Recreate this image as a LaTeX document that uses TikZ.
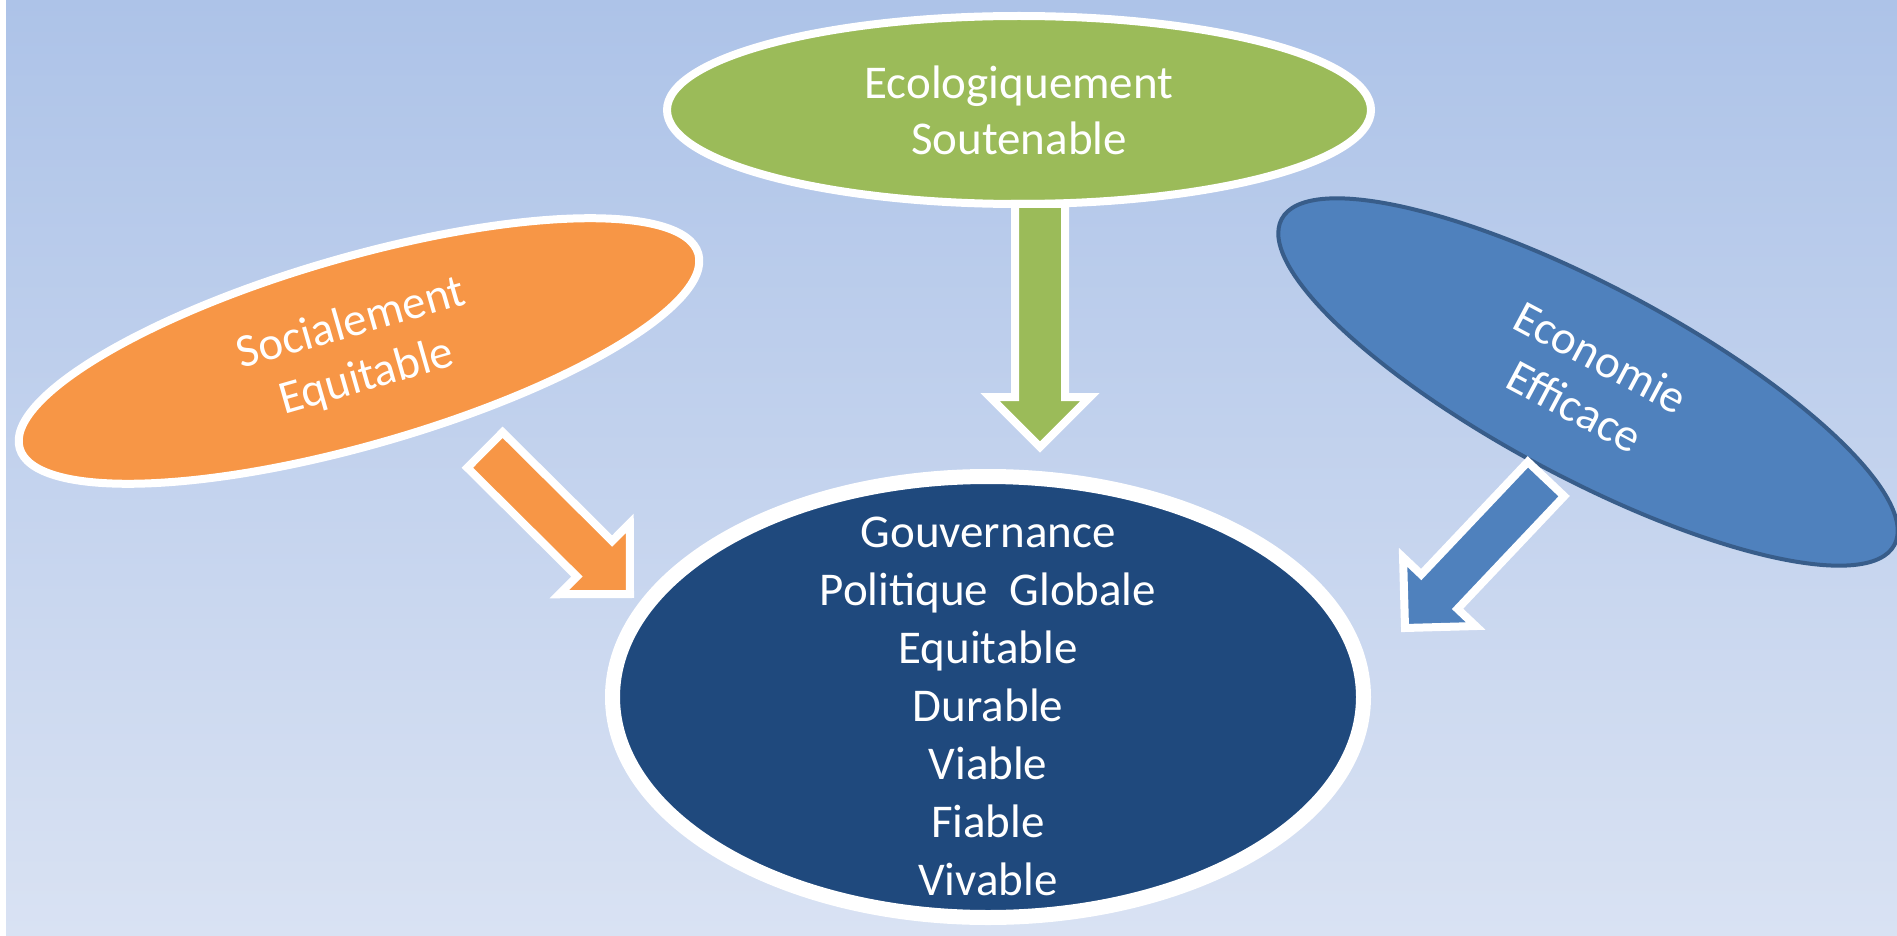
\documentclass[tikz,border=0pt]{standalone}
\usepackage{fontspec}
\setmainfont{Carlito}
\usetikzlibrary{shapes,calc}

\definecolor{fondhaut}{RGB}{173,195,232}
\definecolor{fondbas}{RGB}{217,226,243}
\definecolor{vertsout}{RGB}{155,187,89}
\definecolor{orangesoc}{RGB}{247,150,70}
\definecolor{bleueco}{RGB}{79,129,189}
\definecolor{bleubord}{RGB}{56,93,138}
\definecolor{bleugouv}{RGB}{31,73,125}

% fleche pleine entre deux points nommes
\newcommand{\flechebloc}[3]{%
  \path let \p1=($(#3)-(#2)$) in \pgfextra{%
    \pgfmathparse{atan2(\y1,\x1)}\xdef\angfl{\pgfmathresult}%
    \pgfmathparse{veclen(\x1,\y1)}\xdef\lenfl{\pgfmathresult}};
  \draw[fleche, fill=#1, shift={(#2)}, rotate=\angfl]
    (0,-25) -- (\lenfl-50,-25) -- (\lenfl-50,-50) -- (\lenfl,0)
    -- (\lenfl-50,50) -- (\lenfl-50,25) -- (0,25) -- cycle;}

\begin{document}
\begin{tikzpicture}[x=1pt, y=-1pt]
  \tikzstyle{bulle}=[ellipse, draw=white, line width=8pt, inner sep=0pt, text=white, align=center, font=\fontsize{47}{56}\selectfont]
  \tikzstyle{fleche}=[draw=white, line width=8pt]

  % Fond
  \useasboundingbox (0,0) rectangle (1897,936);
  \fill[white] (0,0) rectangle (1897,936);
  \shade[top color=fondhaut, bottom color=fondbas] (6,0) rectangle (1897,936);

  % Les trois piliers
  \node[bulle, fill=vertsout, minimum width=704pt, minimum height=188pt] (eco) at (1019,110) {Ecologiquement\\Soutenable};
  \node[bulle, fill=orangesoc, minimum width=706pt, minimum height=188pt, rotate=16] (soc) at (359,351) {Socialement\\Equitable};
  \node[bulle, fill=bleueco, draw=bleubord, line width=4pt, minimum width=694pt, minimum height=192pt, rotate=-28] (econ) at (1588,382) {Economie\\Efficace};

  % Gouvernance
  \node[bulle, fill=bleugouv, line width=15pt, minimum width=751pt, minimum height=441pt] (gouv) at (988,697) {};
  \node[text=white, align=center, font=\fontsize{47}{58}\selectfont] (gouv-txt) at (988,706) {Gouvernance\\Politique\ \ Globale\\Equitable\\Durable\\Viable\\Fiable\\Vivable};

  % Fleches
  \coordinate (eco-q) at (1040,204);
  \coordinate (eco-p) at (1040,447);
  \coordinate (soc-q) at (485,450);
  \coordinate (soc-p) at (630,594);
  \coordinate (econ-q) at (1546,479);
  \coordinate (econ-p) at (1405,628);
  \flechebloc{vertsout}{eco-q}{eco-p}
  \flechebloc{orangesoc}{soc-q}{soc-p}
  \flechebloc{bleueco}{econ-q}{econ-p}
\end{tikzpicture}
\end{document}
